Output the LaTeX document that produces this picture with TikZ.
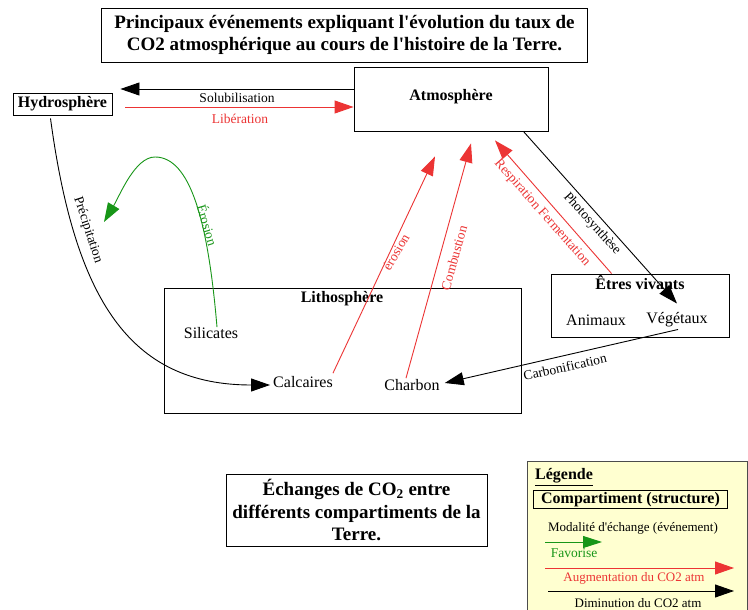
\documentclass[tikz,border=0pt]{standalone}
\usepackage{fontspec}
\setmainfont{Liberation Serif}
\usetikzlibrary{arrows.meta,calc}
\definecolor{myred}{RGB}{236,52,52}
\definecolor{mygreen}{RGB}{24,150,24}
\definecolor{legfill}{RGB}{255,255,208}
\begin{document}
\begin{tikzpicture}[x=1pt,y=1pt,
  boxed/.style={draw,line width=0.9pt,inner sep=0pt},
  bigtip/.style={-{Triangle[length=19pt,width=13pt]}},
  lbl/.style={font=\fontsize{13.5}{15}\selectfont,inner sep=0pt},
  nodetxt/.style={font=\fontsize{16}{18}\selectfont,inner sep=0pt},
  boldtxt/.style={font=\fontsize{16}{18}\selectfont\bfseries,inner sep=0pt},
  bigbold/.style={font=\fontsize{19}{22.5}\selectfont\bfseries,align=center,inner sep=0pt},
  redline/.style={myred,line width=0.9pt},
  greenline/.style={mygreen,line width=0.9pt},
  blackline/.style={black,line width=0.9pt}]
\useasboundingbox (0,0) rectangle (748,-610);
\fill[white] (0,0) rectangle (748,-610);

% Title
\node[boxed,bigbold,minimum width=486,minimum height=54] (title) at (344.5,-35)
  {Principaux événements expliquant l\textquotesingle évolution du taux de\\CO2 atmosphérique au cours de l\textquotesingle histoire de la Terre.};

% Hydrosphere
\node[boxed,boldtxt,minimum width=99,minimum height=22] (hyd) at (62.5,-104) {Hydrosphère};

% Atmosphere
\node[boxed,minimum width=194,minimum height=64] (atm) at (451,-99) {};
\node[boldtxt] (atmt) at (451,-97) {Atmosphère};

% Lithosphere
\node[boxed,minimum width=357,minimum height=125] (litho) at (342.5,-350.5) {};
\node[boldtxt] (lithot) at (342,-299) {Lithosphère};
\node[nodetxt] (sil) at (211,-333) {Silicates};
\node[nodetxt] (calc) at (303,-382) {Calcaires};
\node[nodetxt] (charb) at (412,-385) {Charbon};

% Etres vivants
\node[boxed,minimum width=178,minimum height=63] (etres) at (640,-305.5) {};
\node[boldtxt] (etrest) at (640,-283) {Êtres vivants};
\node[nodetxt] (anim) at (596,-320) {Animaux};
\node[nodetxt] (veg) at (677,-320) {Végétaux};

% Solubilisation / Liberation
\draw[blackline,bigtip] ($(atm.west)+(0,10)$) -- ($(hyd.east)+(8,15)$);
\node[lbl] (solub) at (237,-98) {Solubilisation};
\draw[redline,bigtip] ($(hyd.east)+(13,-3)$) -- ($(atm.west)+(0,-8)$);
\node[lbl,text=myred] (liber) at (240,-119) {Libération};

% Photosynthese
\draw[blackline,bigtip] ($(atm.south east)+(-25,0)$) -- ($(veg.north)+(0,9)$);
\node[lbl,rotate=-47.6] (photo) at (592,-224) {Photosynthèse};

% Respiration Fermentation
\draw[redline,bigtip] ($(etres.north west)+(61,0)$) -- ($(atm.south)+(44,-9)$);
\node[lbl,text=myred,rotate=-48.5] (resp) at (542,-213) {Respiration Fermentation};

% erosion (red)
\draw[redline,bigtip] ($(calc.north east)+(0,3)$) -- ($(atm.south)+(-16,-25)$);
\node[lbl,text=myred,rotate=59.7] (eros) at (396,-252) {érosion};

% Combustion
\draw[redline,bigtip] ($(charb.north)+(-6,1)$) -- ($(atm.south)+(20,-12)$);
\node[lbl,text=myred,rotate=74.3] (comb) at (454,-258) {Combustion};

% Carbonification
\draw[blackline,bigtip] ($(veg.south)+(1,-2)$) -- ($(charb.east)+(5,2)$);
\node[lbl,rotate=12.8] (carbo) at (565,-367) {Carbonification};

% Precipitation
\draw[blackline,bigtip] ($(hyd.south)+(-12,-3)$) .. controls (75,-300) and (130,-385) .. ($(calc.west)+(-3,-3)$);
\node[lbl,rotate=-72] (precip) at (88,-230) {Précipitation};

% Erosion (green)
\draw[greenline,bigtip] ($(sil.north)+(6,0)$) .. controls (208,-220) and (190,-157) .. (155,-157)
  .. controls (135,-157) and (120,-195) .. (104,-222);
\node[lbl,text=mygreen,rotate=-73.5] (erosg) at (208,-225) {Érosion};

% Echanges box
\node[boxed,bigbold,minimum width=261,minimum height=72] (ech) at (356.5,-510)
  {Échanges de CO\textsubscript{2} entre\\différents compartiments de la\\Terre.};

% Legend
\draw[fill=legfill,draw=black!70,line width=0.7pt] (527,-461) rectangle (747,-612);
\node[boldtxt,anchor=west] (leg) at (535,-477) {\underline{Légende}};
\node[boxed,boldtxt,minimum width=194,minimum height=18] (comp) at (630.5,-499.5) {Compartiment (structure)};
\node[lbl,font=\fontsize{13}{15}\selectfont] (modal) at (633,-528) {Modalité d\textquotesingle échange (événement)};
\coordinate (g1) at (545,-542);
\coordinate (g2) at (602,-542);
\draw[greenline,-{Triangle[length=19pt,width=12pt]}] (g1) -- (g2);
\node[lbl,text=mygreen] (fav) at (574,-553) {Favorise};
\coordinate (r1) at (545,-568);
\coordinate (r2) at (734,-568);
\draw[redline,bigtip] (r1) -- (r2);
\node[lbl,text=myred,font=\fontsize{13}{15}\selectfont] (aug) at (634,-578) {Augmentation du CO2 atm};
\coordinate (k1) at (548,-591);
\coordinate (k2) at (734,-591);
\draw[blackline,bigtip] (k1) -- (k2);
\node[lbl,font=\fontsize{13}{15}\selectfont] (dimi) at (638,-603) {Diminution du CO2 atm};
\end{tikzpicture}
\end{document}
